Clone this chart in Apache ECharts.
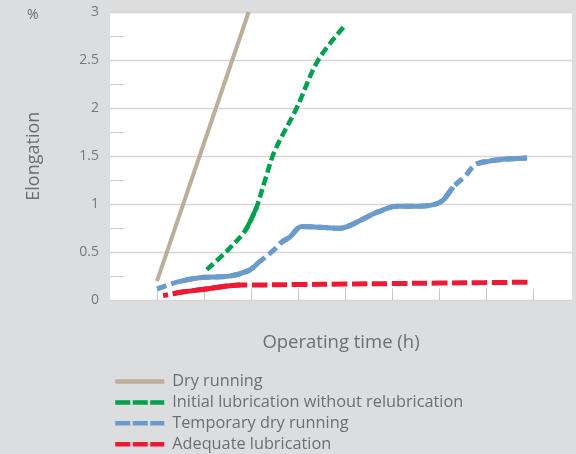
<!DOCTYPE html>
<html lang="en">
<head>
<meta charset="utf-8">
<title>Elongation over operating time</title>
<script src="https://cdn.jsdelivr.net/npm/echarts@6/dist/echarts.min.js"></script>
<style>
    html, body { margin: 0; padding: 0; background: #dcdddf; }
    #main { width: 576px; height: 454px; }
</style>
</head>
<body>
<div id="main"></div>
<script>
    // chart data: [operating time step, elongation %]
    var seriesNames = ['Dry running', 'Initial lubrication without relubrication', 'Temporary dry running', 'Adequate lubrication'];
    var xTicks = [0, 1, 2, 3, 4, 5, 6, 7, 8];
    var yTicks = [0, 0.5, 1, 1.5, 2, 2.5, 3];

    var dryRunning = [[0, 0.2], [1.95, 3.0]];
    var initialLubrication = [[1.06, 0.32], [1.5, 0.52], [1.87, 0.72], [2.0, 0.84], [2.12, 0.97], [2.33, 1.3],
        [2.5, 1.55], [2.97, 2.0], [3.43, 2.5], [4.0, 2.86]];
    var temporaryDry = [[0, 0.12], [0.5, 0.2], [1, 0.24], [1.5, 0.25], [1.95, 0.31], [2.15, 0.39], [2.5, 0.53],
        [2.66, 0.61], [2.83, 0.66], [3.08, 0.77], [3.5, 0.76], [3.89, 0.75], [4.06, 0.77], [4.46, 0.865],
        [4.7, 0.92], [5.1, 0.98], [5.55, 0.98], [6.02, 1.02], [6.3, 1.18], [6.55, 1.29], [6.8, 1.42],
        [7.23, 1.46], [7.87, 1.48]];
    var adequateLubrication = [[0.13, 0.05], [0.35, 0.07], [0.5, 0.085], [1, 0.115], [1.5, 0.15], [1.77, 0.16],
        [2, 0.16], [3, 0.165], [4, 0.17], [5, 0.175], [6, 0.18], [7, 0.185], [7.9, 0.19]];

    // line looks: the source draws solid stretches inside the dashed lines
    var looks = [
        { data: dryRunning, color: '#bdae9b', width: 4, dash: 'solid', solidParts: [] },
        { data: initialLubrication, color: '#00a04e', width: 4.5, dash: [9, 4], solidParts: [[1.87, 2.12]] },
        { data: temporaryDry, color: '#6a9bcb', width: 5, dash: [10, 5], solidParts: [[0.5, 2.15], [2.66, 6.3], [6.8, 7.87]] },
        { data: adequateLubrication, color: '#ec1b34', width: 5, dash: [15.5, 4.5], dashOffset: 10.5, solidParts: [[0.35, 1.77]] }
    ];

    var series = [];
    var legendData = [];
    looks.forEach(function (l, i) {
        series.push({
            name: seriesNames[i],
            type: 'line',
            data: l.data,
            smooth: 0.35,
            symbol: 'none',
            silent: true,
            lineStyle: { color: l.color, width: l.width, type: l.dash, dashOffset: l.dashOffset || 0 },
            itemStyle: { color: l.color },
            z: 2 + i
        });
        legendData.push({
            name: seriesNames[i],
            itemStyle: { opacity: 0 },
            lineStyle: { type: l.dash === 'solid' ? 'solid' : [15, 2.5], dashOffset: 0, width: 4.5 }
        });
        l.solidParts.forEach(function (part, j) {
            series.push({
                name: seriesNames[i] + ' part ' + j,
                type: 'line',
                data: l.data.filter(function (p) { return p[0] >= part[0] && p[0] <= part[1]; }),
                smooth: 0.35,
                symbol: 'none',
                silent: true,
                lineStyle: { color: l.color, width: l.width, type: 'solid' },
                z: 2 + i
            });
        });
    });

    var myChart = echarts.init(document.getElementById('main'));
    var option = {
        backgroundColor: '#dcdddf',
        animation: false,
        textStyle: { fontFamily: 'Open Sans' },
        grid: {
            left: 110, right: 4, top: 12, bottom: 153.6,
            show: true, backgroundColor: '#ffffff', borderWidth: 0
        },
        graphic: [{
            type: 'text', left: 27, top: 8,
            style: { text: '%', fontSize: 14, fill: '#6d6e71', fontFamily: 'Open Sans' }
        }],
        legend: {
            orient: 'vertical',
            left: 113,
            top: 373.5,
            height: 100,
            padding: 0,
            itemWidth: 49,
            itemHeight: 14,
            itemGap: 4.9,
            selectedMode: false,
            data: legendData,
            textStyle: { fontSize: 16.3, color: '#6d6e71', fontFamily: 'Open Sans', padding: [0, 0, 0, 3] }
        },
        xAxis: {
            type: 'value',
            min: -1,
            max: 8.83,
            interval: 1,
            name: 'Operating time (h)',
            nameLocation: 'middle',
            nameGap: 33,
            nameTextStyle: { fontSize: 18.5, color: '#6d6e71', fontFamily: 'Open Sans' },
            axisLine: { show: false, onZero: false },
            axisLabel: { show: false },
            splitLine: { show: false },
            axisTick: {
                show: true, inside: true, length: 12,
                customValues: xTicks,
                lineStyle: { color: '#c8c8c8', width: 1 }
            }
        },
        yAxis: {
            type: 'value',
            min: 0,
            max: 3,
            interval: 0.5,
            name: 'Elongation',
            nameLocation: 'middle',
            nameGap: 67,
            nameTextStyle: { fontSize: 18, color: '#6d6e71', fontFamily: 'Open Sans' },
            axisLine: { show: false, onZero: false },
            axisTick: { show: false, inside: true },
            minorTick: { show: true, splitNumber: 2, length: 14, lineStyle: { color: '#cfcfcf', width: 1 } },
            axisLabel: {
                margin: 11, fontSize: 14, color: '#77787b', fontFamily: 'Open Sans',
                customValues: yTicks
            },
            splitLine: { show: true, lineStyle: { color: '#d6d6d6', width: 1.3 } }
        },
        series: series
    };
    myChart.setOption(option);
</script>
</body>
</html>
